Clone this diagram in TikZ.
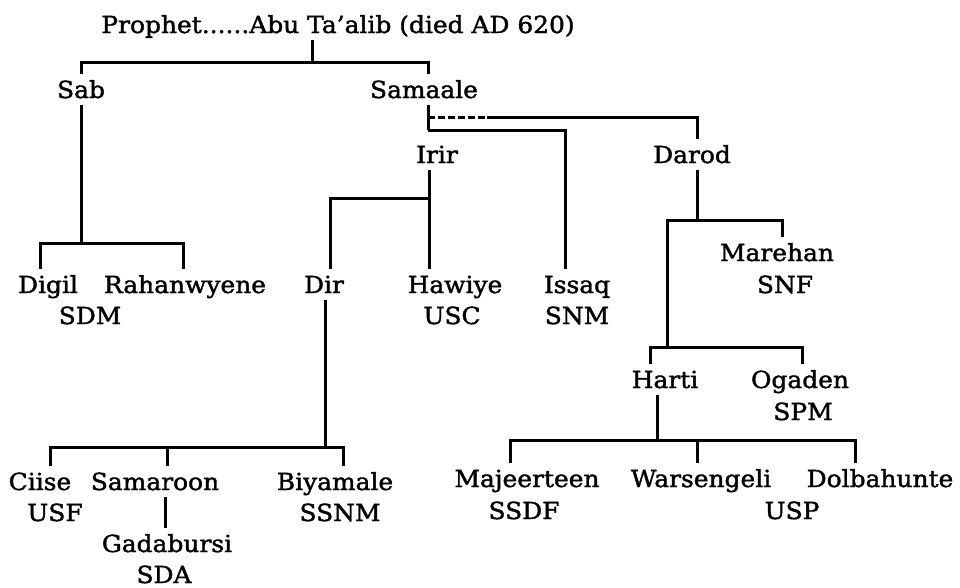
\documentclass[tikz,border=0pt]{standalone}
\usepackage{fontspec}
\newfontfamily\clanfont{DejaVu Serif}[FakeStretch=1.06,FakeBold=1.6]
\usepackage{tikz}

\begin{document}
\begin{tikzpicture}[x=1pt,y=-1pt,
    clan/.style={font={\clanfont\fontsize{23.5}{27}\selectfont},anchor=base,inner sep=4pt,text height=20pt,text depth=3pt},
    tree/.style={line width=3pt,black}]
    \useasboundingbox (0,0) rectangle (960,587);
    % names, top to bottom
    \node[clan] (title) at (338,33) {Prophet......Abu Ta’alib (died AD 620)};
    \node[clan] (sab) at (81,98) {Sab};
    \node[clan] (samaale) at (424,98) {Samaale};
    \node[clan] (irir) at (437,163) {Irir};
    \node[clan] (darod) at (692,163) {Darod};
    \node[clan] (marehan) at (777,261) {Marehan};
    \node[clan] (snf) at (785,293) {SNF};
    \node[clan] (digil) at (48,293) {Digil};
    \node[clan] (rahan) at (185,293) {Rahanwyene};
    \node[clan] (sdm) at (90,324) {SDM};
    \node[clan] (dir) at (324,293) {Dir};
    \node[clan] (hawiye) at (455,293) {Hawiye};
    \node[clan] (usc) at (452,324) {USC};
    \node[clan] (issaq) at (577,293) {Issaq};
    \node[clan] (snm) at (577,324) {SNM};
    \node[clan] (harti) at (665,388) {Harti};
    \node[clan] (ogaden) at (800,388) {Ogaden};
    \node[clan] (spm) at (803,420) {SPM};
    \node[clan] (ciise) at (40,490) {Ciise};
    \node[clan] (usf) at (55,521) {USF};
    \node[clan] (samaroon) at (155,490) {Samaroon};
    \node[clan] (gadabursi) at (167,552) {Gadabursi};
    \node[clan] (sda) at (164,583) {SDA};
    \node[clan] (biyamale) at (335,490) {Biyamale};
    \node[clan] (ssnm) at (340,521) {SSNM};
    \node[clan] (majeerteen) at (527,487) {Majeerteen};
    \node[clan] (ssdf) at (524,519) {SSDF};
    \node[clan] (warsengeli) at (701,487) {Warsengeli};
    \node[clan] (dolbahunte) at (880,487) {Dolbahunte};
    \node[clan] (usp) at (792,519) {USP};
    % junctions
    \coordinate (top) at (312,62);
    \coordinate (sabbar) at (81,243);
    \coordinate (fork) at (428,130);
    \coordinate (dash) at (428,117);
    \coordinate (dashend) at (487,117);
    \coordinate (irirbar) at (429,198);
    \coordinate (dirbar) at (325,447);
    \coordinate (samtop) at (167,447);
    \coordinate (darodbar) at (697,220);
    \coordinate (ogbar) at (667,347);
    \coordinate (hartibar) at (657,440);
    \coordinate (warstop) at (697,440);
    % lines
    \draw[tree] (title.south -| top) -- (top);
    \draw[tree] (sab.north) |- (top) -| ([xshift=4pt]samaale.north);
    \draw[tree] (sab.south) -- (sabbar);
    \draw[tree] ([xshift=-8pt]digil.north) |- (sabbar) -| ([xshift=-2pt]rahan.north);
    \draw[tree] ([xshift=4pt]samaale.south) -- (fork);
    \draw[tree,dash pattern=on 7pt off 3pt] (dash) -- (dashend);
    \draw[tree] (dashend) -| ([xshift=5pt]darod.north);
    \draw[tree] (fork) -| ([xshift=-12pt]issaq.north);
    \draw[tree] ([xshift=-8pt]irir.south) -- ([xshift=-26pt]hawiye.north);
    \draw[tree] (irirbar) -| ([xshift=6pt]dir.north);
    \draw[tree] ([xshift=1pt]dir.south) -- (dirbar);
    \draw[tree] ([xshift=10pt]ciise.north) |- (dirbar) -| ([xshift=8pt]biyamale.north);
    \draw[tree] (samtop) -- ([xshift=12pt]samaroon.north);
    \draw[tree] ([xshift=10pt]samaroon.south) -- ([xshift=-2pt]gadabursi.north);
    \draw[tree] ([xshift=5pt]darod.south) -- (darodbar);
    \draw[tree] (ogbar) |- (darodbar) -| ([xshift=5pt]marehan.north);
    \draw[tree] ([xshift=-15pt]harti.north) |- (ogbar) -| ([xshift=2pt]ogaden.north);
    \draw[tree] ([xshift=-8pt]harti.south) -- (hartibar);
    \draw[tree] ([xshift=-17pt]majeerteen.north) |- (hartibar) -| ([xshift=-25pt]dolbahunte.north);
    \draw[tree] (warstop) -- ([xshift=-4pt]warsengeli.north);
\end{tikzpicture}
\end{document}
